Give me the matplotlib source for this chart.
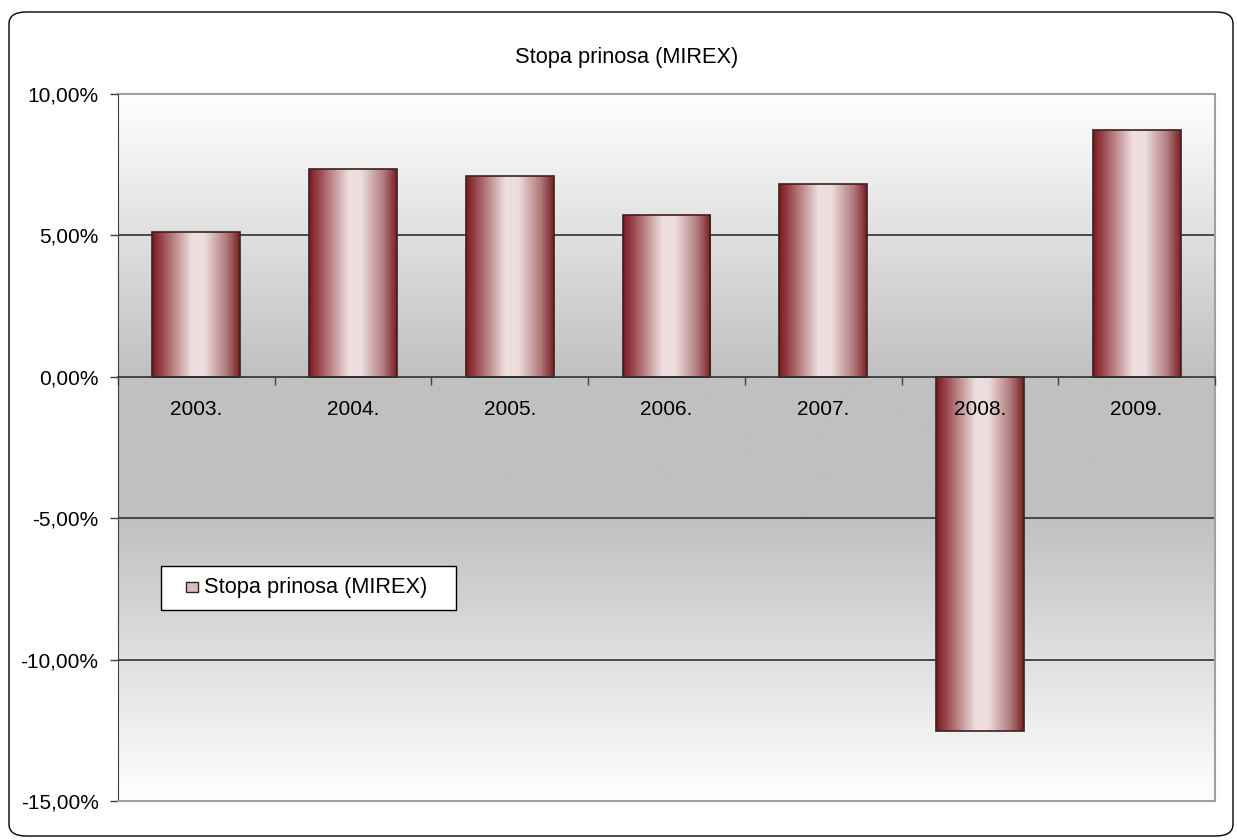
import matplotlib

matplotlib.use("Agg")
import matplotlib.pyplot as plt
import numpy as np
from matplotlib.colors import LinearSegmentedColormap
from matplotlib.patches import FancyBboxPatch, Rectangle
from matplotlib.ticker import FuncFormatter

plt.rcParams["font.family"] = ["Liberation Sans", "DejaVu Sans"]

years = ["2003.", "2004.", "2005.", "2006.", "2007.", "2008.", "2009."]
returns = [5.11, 7.36, 7.10, 5.72, 6.81, -12.54, 8.72]
yticks = [-15, -10, -5, 0, 5, 10]
title = "Stopa prinosa (MIREX)"

W, H = 1237, 840

bar_cmap = LinearSegmentedColormap.from_list(
    "bar", [(0.0, "#7a1a1e"), (0.12, "#9a4a4e"), (0.45, "#efdfe0"), (0.6, "#ecdcdc"),
            (0.85, "#b07a7c"), (1.0, "#7a1f22")])
bg_cmap = LinearSegmentedColormap.from_list(
    "bg", [(0.0, "#ffffff"), (0.4, "#c0c0c0"), (0.6, "#c0c0c0"), (1.0, "#ffffff")])


def fmt_pct(v, _):
    return f"{v:.2f}".replace(".", ",") + "%"


fig = plt.figure(figsize=(W / 100, H / 100), dpi=100)
fig.patches.append(FancyBboxPatch((9 / W, 4 / H), 1224 / W, 824 / H,
                                  boxstyle="round,pad=0,rounding_size=0.014",
                                  transform=fig.transFigure, facecolor="white",
                                  edgecolor="black", linewidth=1.0, zorder=-1))
ax = fig.add_axes([118 / W, 39 / H, 1097 / W, 707 / H])
ax.patch.set_alpha(0)

x = np.arange(len(years))
xlim = (-0.5, len(years) - 0.5)

# background gradient
grad = np.linspace(0, 1, 256).reshape(-1, 1)
ax.imshow(grad, cmap=bg_cmap, extent=[xlim[0], xlim[1], -15, 10], origin="upper",
          aspect="auto", zorder=0)

for t in [-10, -5, 5]:
    ax.axhline(t, color="#303030", linewidth=1.2, zorder=0.5)
ax.axhline(-15, color="#a0a0a0", linewidth=1.5, zorder=3, clip_on=False)

bars = ax.bar(x, returns, width=0.56, facecolor="none", edgecolor="#3a2020",
              linewidth=1.2, zorder=2)
hgrad = np.linspace(0, 1, 256).reshape(1, -1)
for b in bars:
    x0, y0 = b.get_x(), b.get_y()
    w, h = b.get_width(), b.get_height()
    im = ax.imshow(hgrad, cmap=bar_cmap, extent=[x0, x0 + w, min(y0, y0 + h), max(y0, y0 + h)],
                   aspect="auto", zorder=1.5)
    im.set_clip_path(b)

ax.set_xlim(*xlim)
ax.set_ylim(-15, 10)

ax.spines["bottom"].set_position(("data", 0))
ax.spines["bottom"].set_color("#303030")
ax.spines["bottom"].set_linewidth(1.2)
ax.spines["left"].set_color("#404040")
for s in ["top", "right"]:
    ax.spines[s].set_color("#a0a0a0")
    ax.spines[s].set_linewidth(1.5)

ax.set_yticks(yticks)
ax.yaxis.set_major_formatter(FuncFormatter(fmt_pct))
ax.tick_params(axis="y", length=6, width=1, color="#404040", labelsize=15, pad=8)

ax.set_xticks(x)
ax.set_xticklabels(years)
ax.set_xticks(np.arange(len(years) + 1) - 0.5, minor=True)
ax.tick_params(axis="x", which="major", length=0, labelsize=15, pad=17)
ax.tick_params(axis="x", which="minor", length=6, width=1, color="#404040")
ax.set_axisbelow(False)

fig.text(627 / W, 1 - 58 / H, title, ha="center", va="center", fontsize=15.7)

# legend box
fig.patches.append(Rectangle((161 / W, 1 - 610 / H), 295 / W, 44 / H, transform=fig.transFigure,
                             facecolor="white", edgecolor="black", linewidth=1.0, zorder=5))
fig.patches.append(Rectangle((186 / W, 1 - 592 / H), 12 / W, 10 / H, transform=fig.transFigure,
                             facecolor="#d9bfc0", edgecolor="#3a2020", linewidth=1.0, zorder=6))
fig.text(204 / W, 1 - 588 / H, title, ha="left", va="center", fontsize=15.7, zorder=7)

fig.savefig("out.png", dpi=100)
